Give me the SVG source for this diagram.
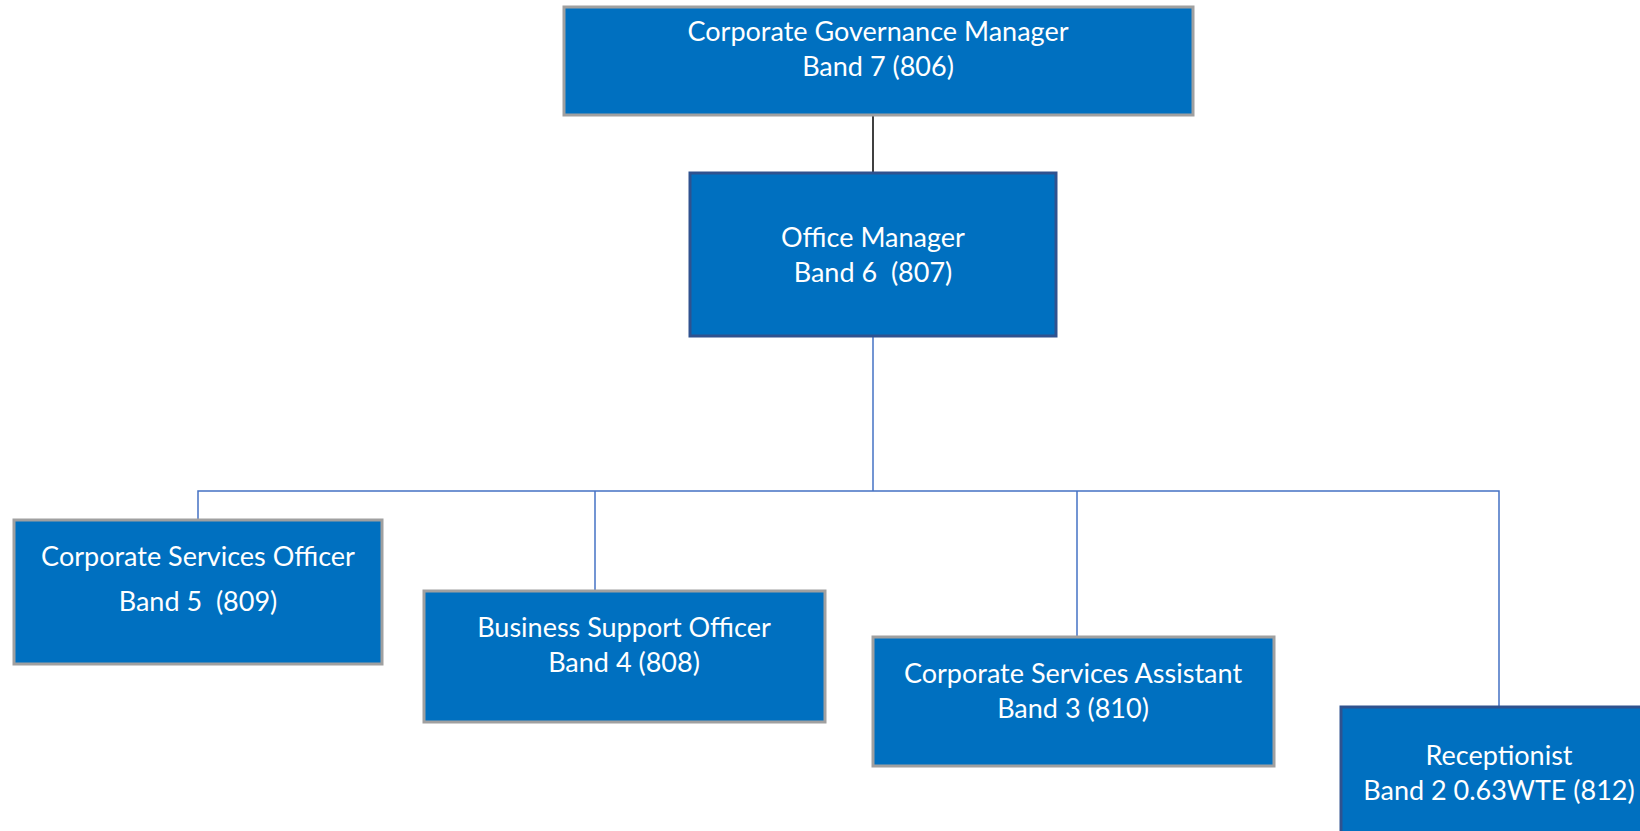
<svg xmlns="http://www.w3.org/2000/svg" width="1640" height="831" viewBox="0 0 1640 831">
<style>
.box{fill:#0070C0;stroke-width:3}
.g{stroke:#A0A0A0}
.d{stroke:#2F528F}
text{font-family:Lato,"Liberation Sans",sans-serif;font-size:27px;fill:#fff;text-anchor:middle;white-space:pre}
.c{fill:none;stroke:#4472C4;stroke-width:1.5}
</style>
<rect width="1640" height="831" fill="#fff"/>
<g id="connectors">
<line x1="873" y1="115" x2="873" y2="173" stroke="#404040" stroke-width="2"/>
<polyline class="c" points="873,336 873,491"/>
<polyline class="c" points="198,528 198,491 1499,491 1499,707"/>
<line class="c" x1="595" y1="491" x2="595" y2="591"/>
<line class="c" x1="1077" y1="491" x2="1077" y2="646"/>
</g>
<g id="cgm">
<rect class="box g" x="564" y="7" width="629" height="108"/>
<text x="878" y="41">Corporate Governance Manager</text>
<text x="878" y="76">Band 7 (806)</text>
</g>
<g id="om">
<rect class="box d" x="690" y="173" width="366" height="163"/>
<text x="873" y="247" xml:space="preserve">Office Manager</text>
<text x="873" y="282" xml:space="preserve">Band 6  (807)</text>
</g>
<g id="cso">
<rect class="box g" x="14" y="520" width="368" height="144"/>
<text x="198" y="566">Corporate Services Officer</text>
<text x="198" y="611" xml:space="preserve">Band 5  (809)</text>
</g>
<g id="bso">
<rect class="box g" x="424" y="591" width="401" height="131"/>
<text x="624" y="637">Business Support Officer</text>
<text x="624" y="672">Band 4 (808)</text>
</g>
<g id="csa">
<rect class="box g" x="873" y="637" width="401" height="129"/>
<text x="1073" y="683">Corporate Services Assistant</text>
<text x="1073" y="718">Band 3 (810)</text>
</g>
<g id="rec">
<rect class="box d" x="1341" y="707" width="310" height="140"/>
<text x="1499" y="765">Receptionist</text>
<text x="1499" y="800">Band 2 0.63WTE (812)</text>
</g>
</svg>
